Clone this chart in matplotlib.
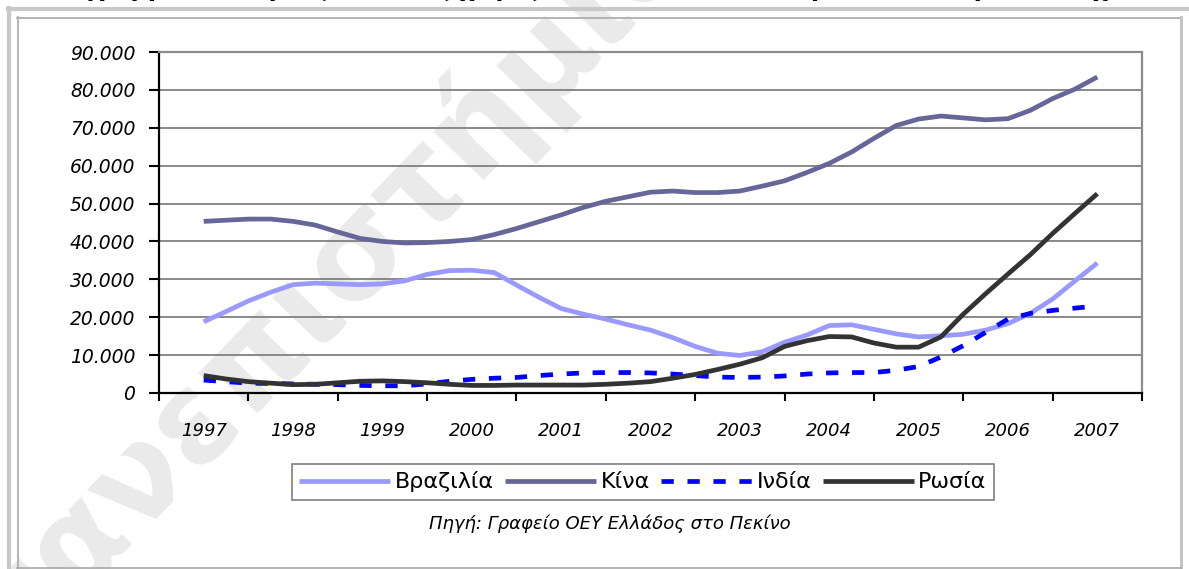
import numpy as np
import matplotlib
matplotlib.use("Agg")
import matplotlib.pyplot as plt
from matplotlib.lines import Line2D
from matplotlib.ticker import FixedLocator, FuncFormatter

# ---------------- data (quarterly readings, 1997 Q1 .. 2007 Q1) ----------------
years = list(range(1997, 2008))
series_names = ["Βραζιλία", "Κίνα", "Ινδία", "Ρωσία"]

brazil = [18.8, 21.5, 24.3, 26.6, 28.6, 29.0, 28.8, 28.6, 28.8, 29.6, 31.3, 32.3, 32.4,
          31.8, 28.5, 25.3, 22.3, 20.8, 19.5, 18.0, 16.6, 14.6, 12.3, 10.5, 9.9, 10.9,
          13.4, 15.3, 17.8, 18.0, 16.8, 15.6, 14.8, 15.1, 15.5, 16.6, 18.3, 21.0, 24.8,
          29.6, 34.3]
china = [45.3, 45.6, 45.9, 45.9, 45.3, 44.3, 42.5, 40.8, 40.0, 39.6, 39.7, 40.0, 40.5,
         41.8, 43.4, 45.2, 47.0, 49.0, 50.6, 51.8, 53.0, 53.3, 52.9, 52.9, 53.3, 54.6,
         56.0, 58.2, 60.6, 63.6, 67.2, 70.6, 72.3, 73.1, 72.6, 72.1, 72.4, 74.6, 77.7,
         80.2, 83.4]
india = [3.4, 3.0, 2.6, 2.5, 2.4, 2.3, 2.2, 2.0, 1.9, 1.9, 2.4, 3.1, 3.6, 3.9, 4.1, 4.6,
         5.0, 5.3, 5.4, 5.4, 5.3, 5.0, 4.6, 4.2, 4.1, 4.2, 4.5, 5.0, 5.3, 5.4, 5.4, 6.0,
         7.0, 9.5, 12.5, 16.0, 19.5, 21.0, 21.8, 22.4, 23.0]
russia = [4.6, 3.7, 3.0, 2.6, 2.2, 2.3, 2.7, 3.1, 3.2, 3.0, 2.7, 2.3, 2.0, 2.0, 2.1, 2.1,
          2.1, 2.1, 2.3, 2.6, 3.0, 3.9, 4.9, 6.2, 7.6, 9.3, 12.3, 13.8, 14.9, 14.8, 13.2,
          12.1, 12.1, 14.8, 20.8, 26.2, 31.4, 36.5, 42.1, 47.4, 52.6]

yticks = list(range(0, 90001, 10000))
title_text = "Διάγραμμα 2: Εισροές ΑΞΕ στις χώρες BRIC (σε εκατ. δολάρια ΗΠΑ, ετήσια στοιχεία)"
source_text = "Πηγή: Γραφείο ΟΕΥ Ελλάδος στο Πεκίνο"
watermark_text = "πανεπιστήμιο"

colors = ["#9999FF", "#666699", "#0000FF", "#333333"]

# ---------------- figure ----------------
W, H = 1189, 569
fig = plt.figure(figsize=(W / 100, H / 100), dpi=100)
fig.patch.set_facecolor("white")

def fx(px):
    return px / W

def fy(py):
    return 1 - py / H

# watermark (behind the chart)
fig.text(fx(325), fy(285), watermark_text, rotation=46, fontsize=92, color="#eaeaea",
         ha="center", va="center", zorder=0.1, fontweight="bold")

# title, mostly cut off at the top (as in the reference)
fig.text(fx(600), fy(-4), title_text, ha="center", va="baseline", fontsize=17,
         fontweight="bold", fontstyle="italic", color="black")

# outer frames
frame_lines = [
    ((8, 1189), (8.5, 8.5), "#c8c8c8", 3.0),
    ((8.5, 8.5), (8, 569), "#c8c8c8", 3.0),
    ((17, 1181), (17.5, 17.5), "#a8a8a8", 1.2),
    ((17.5, 17.5), (17, 568), "#a8a8a8", 1.2),
    ((1181, 1181), (17, 568), "#c0c0c0", 2.0),
    ((17, 1181), (567.5, 567.5), "#a8a8a8", 1.2),
]
for xs, ys, c, lw in frame_lines:
    fig.add_artist(Line2D([fx(x) for x in xs], [fy(y) for y in ys],
                          transform=fig.transFigure, color=c, lw=lw, zorder=0.2))

ax = fig.add_axes([fx(159), fy(393), fx(1142) - fx(159), fy(52) - fy(393)])
ax.set_zorder(1)
ax.patch.set_alpha(0)

n = len(brazil)
x = np.array([years[0] + i / 4 for i in range(n)])
data = [brazil, china, india, russia]
lines = []
for name, vals, col in zip(series_names, data, colors):
    v = np.array(vals) * 1000
    if name == "Ινδία":
        ln, = ax.plot(x, v, color=col, lw=3.4, solid_capstyle="butt",
                      dash_capstyle="butt", dashes=(2.6, 2.9), label=name, zorder=3)
    else:
        ln, = ax.plot(x, v, color=col, lw=3.4, solid_capstyle="butt", label=name, zorder=3)
    lines.append(ln)

ax.set_xlim(years[0] - 0.5, years[-1] + 0.5)
ax.set_ylim(0, 90000)

ax.yaxis.set_major_locator(FixedLocator(yticks))
ax.yaxis.set_major_formatter(FuncFormatter(lambda v, p: f"{int(v):,}".replace(",", ".")))
ax.grid(axis="y", color="#808080", lw=1.3, zorder=1)
ax.set_axisbelow(True)

ax.xaxis.set_major_locator(FixedLocator([y - 0.5 for y in years] + [years[-1] + 0.5]))
ax.xaxis.set_major_formatter(FuncFormatter(lambda v, p: ""))
ax.xaxis.set_minor_locator(FixedLocator(years))
ax.xaxis.set_minor_formatter(FuncFormatter(lambda v, p: str(int(round(v)))))
ax.tick_params(axis="x", which="major", length=6, width=1.5, color="black", direction="out")
ax.tick_params(axis="x", which="minor", length=0, pad=21, labelsize=13)
ax.tick_params(axis="y", which="major", length=7, width=1.5, color="black", pad=10,
               labelsize=13.5)
for lab in ax.get_xticklabels(minor=True) + ax.get_yticklabels():
    lab.set_fontstyle("italic")

for s in ["left", "bottom"]:
    ax.spines[s].set_color("black")
    ax.spines[s].set_linewidth(1.6)
for s in ["top", "right"]:
    ax.spines[s].set_color("#8c8c8c")
    ax.spines[s].set_linewidth(1.6)

leg = fig.legend(handles=lines, loc="center", bbox_to_anchor=(fx(643), fy(482)),
                 bbox_transform=fig.transFigure, ncol=4, frameon=True, fancybox=False,
                 edgecolor="#808080", framealpha=1, fontsize=16, handlelength=4.1,
                 handletextpad=0.2, columnspacing=0.5, borderpad=0.35, borderaxespad=0)
leg.get_frame().set_linewidth(1.2)

fig.text(fx(610), fy(524), source_text, ha="center", va="center", fontsize=13,
         fontstyle="italic", color="black")

fig.savefig("out.png", dpi=100)
